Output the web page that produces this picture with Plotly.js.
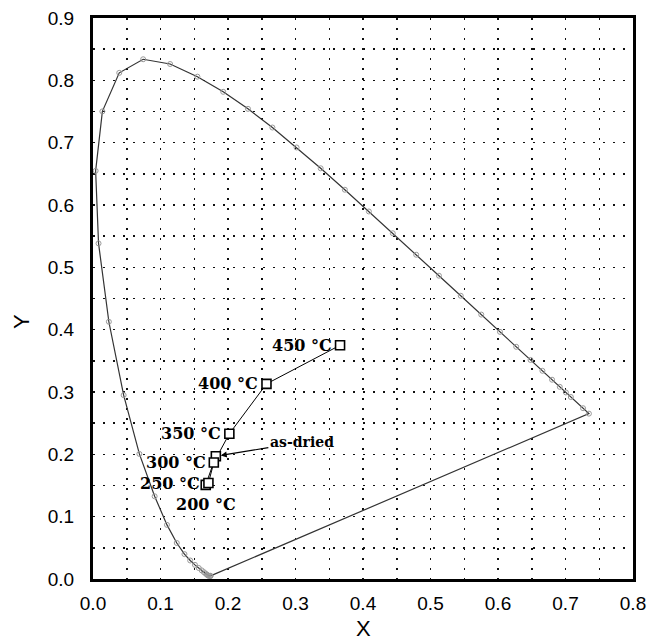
<!DOCTYPE html>
<html>
<head>
<meta charset="utf-8">
<script src="https://cdn.plot.ly/plotly-3.0.1.min.js"></script>
<style>
  html, body { margin: 0; padding: 0; background: #fff; }
  #chart { width: 668px; height: 640px; }
</style>
</head>
<body>
<div id="chart"></div>
<script>
// CIE 1931 spectral locus (380, 400, 420-630 nm every 5 nm, 650, 700 nm)
const locusX = [
  0.1741, 0.1733, 0.1714, 0.1703,
  0.1689, 0.1669, 0.1644, 0.1611, 0.1566, 0.1510, 0.1440, 0.1355, 0.1241, 0.1096,
  0.0913, 0.0687, 0.0454, 0.0235, 0.0082, 0.0039, 0.0139, 0.0389, 0.0743, 0.1142,
  0.1547, 0.1929, 0.2296, 0.2658, 0.3016, 0.3373, 0.3731, 0.4087, 0.4441, 0.4788,
  0.5125, 0.5448, 0.5752, 0.6029, 0.6270, 0.6482, 0.6658, 0.6801, 0.6915, 0.7006,
  0.7079, 0.7260, 0.7347
];
const locusY = [
  0.0050, 0.0048, 0.0051, 0.0058,
  0.0069, 0.0086, 0.0109, 0.0138, 0.0177, 0.0227, 0.0297, 0.0399, 0.0578, 0.0868,
  0.1327, 0.2007, 0.2950, 0.4127, 0.5384, 0.6548, 0.7502, 0.8120, 0.8338, 0.8262,
  0.8059, 0.7816, 0.7543, 0.7243, 0.6923, 0.6589, 0.6245, 0.5896, 0.5547, 0.5202,
  0.4866, 0.4544, 0.4242, 0.3965, 0.3725, 0.3514, 0.3340, 0.3197, 0.3083, 0.2993,
  0.2920, 0.2740, 0.2653
];

// Sample chromaticity coordinates
const sampleLabels = ['as-dried', '200 °C', '250 °C', '300 °C', '350 °C', '400 °C', '450 °C'];
const sampleX = [0.182, 0.167, 0.171, 0.179, 0.202, 0.257, 0.366];
const sampleY = [0.197, 0.151, 0.154, 0.187, 0.233, 0.313, 0.375];

// Axis tick values
const xTicks = [0, 0.1, 0.2, 0.3, 0.4, 0.5, 0.6, 0.7, 0.8];
const yTicks = [0, 0.1, 0.2, 0.3, 0.4, 0.5, 0.6, 0.7, 0.8, 0.9];

// close the locus with the line of purples
const closedX = locusX.concat([locusX[0]]);
const closedY = locusY.concat([locusY[0]]);

const dotGrid = { gridcolor: '#111', gridwidth: 1.5, griddash: '1.5px,8.5px' };
const tickFont = { family: 'Liberation Sans, Arial, sans-serif', size: 19, color: '#000' };
const labelFont = { family: 'DejaVu Serif, serif', size: 16, color: '#000', weight: 'bold' };

const traces = [
  {
    x: closedX, y: closedY, type: 'scatter', mode: 'lines+markers',
    line: { color: '#333', width: 1.2 },
    marker: { symbol: 'circle-open', size: 5, color: '#999', line: { width: 1 } },
    hoverinfo: 'x+y'
  },
  {
    x: sampleX, y: sampleY, type: 'scatter', mode: 'lines+markers',
    text: sampleLabels, hoverinfo: 'text+x+y',
    line: { color: '#000', width: 1 },
    marker: { symbol: 'square', size: 9, color: '#fff', line: { color: '#000', width: 1.6 } }
  }
];

const annotations = [];
sampleLabels.forEach((lab, i) => {
  if (lab === 'as-dried') {
    annotations.push({
      x: sampleX[i], y: sampleY[i], xref: 'x', yref: 'y',
      text: lab, showarrow: true, ax: 86, ay: -14,
      arrowhead: 2, arrowsize: 1, arrowwidth: 1.2, arrowcolor: '#000', standoff: 5,
      font: Object.assign({}, labelFont, { size: 14 })
    });
  } else if (lab === '200 °C') {
    annotations.push({
      x: sampleX[i], y: sampleY[i], xref: 'x', yref: 'y',
      text: lab, showarrow: false, xanchor: 'center', yanchor: 'middle', yshift: -20,
      font: labelFont
    });
  } else {
    annotations.push({
      x: sampleX[i], y: sampleY[i], xref: 'x', yref: 'y',
      text: lab, showarrow: false, xanchor: 'right', yanchor: 'middle', xshift: -6,
      font: labelFont
    });
  }
});

// axis titles
annotations.push({
  x: 0.5, y: 0, xref: 'paper', yref: 'paper', text: 'X', showarrow: false,
  xanchor: 'center', yanchor: 'middle', yshift: -49,
  font: { family: 'Liberation Sans, Arial, sans-serif', size: 22, color: '#000' }
});
annotations.push({
  x: 0, y: 0.458, xref: 'paper', yref: 'paper', text: 'Y', showarrow: false,
  textangle: -90, xanchor: 'center', yanchor: 'middle', xshift: -72,
  font: { family: 'Liberation Sans, Arial, sans-serif', size: 22, color: '#000' }
});

const layout = {
  width: 668, height: 640,
  margin: { l: 93, r: 35, t: 18, b: 61 },
  paper_bgcolor: '#fff', plot_bgcolor: '#fff',
  showlegend: false,
  xaxis: Object.assign({
    range: [0, 0.8], tickvals: xTicks, ticktext: xTicks.map(v => v.toFixed(1)),
    showline: true, mirror: true, linecolor: '#000', linewidth: 3,
    zeroline: false, showgrid: true,
    ticks: 'outside', ticklen: 5, tickcolor: 'rgba(0,0,0,0)',
    tickfont: tickFont,
    minor: Object.assign({ dtick: 0.05, showgrid: true }, dotGrid)
  }, dotGrid),
  yaxis: Object.assign({
    range: [0, 0.9], tickvals: yTicks, ticktext: yTicks.map(v => v.toFixed(1)),
    showline: true, mirror: true, linecolor: '#000', linewidth: 3,
    zeroline: false, showgrid: true,
    ticks: 'outside', ticklen: 12, tickcolor: 'rgba(0,0,0,0)',
    tickfont: tickFont,
    minor: Object.assign({ dtick: 0.05, showgrid: true }, dotGrid)
  }, dotGrid),
  annotations: annotations
};

Plotly.newPlot('chart', traces, layout, { displayModeBar: false, staticPlot: true });
</script>
</body>
</html>
